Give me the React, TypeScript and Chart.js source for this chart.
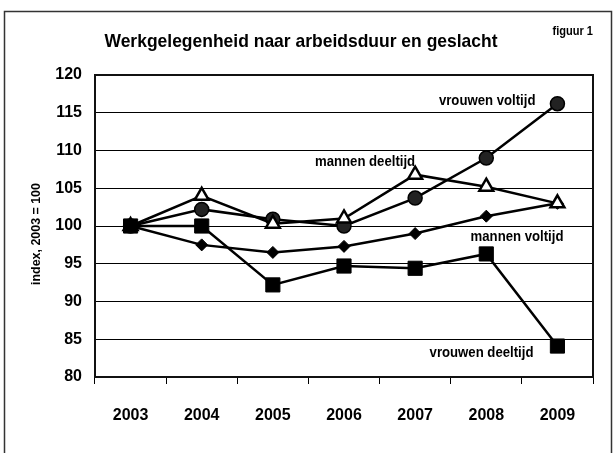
import { useEffect, useRef } from "react";
import { Chart, registerables } from "chart.js";

Chart.register(...registerables);

const years = ["2003", "2004", "2005", "2006", "2007", "2008", "2009"];
const vrouwenVoltijd = [100, 102.2, 100.9, 100.0, 103.7, 109.0, 116.2];
const mannenDeeltijd = [100, 104.0, 100.3, 101.0, 106.8, 105.2, 103.0];
const mannenVoltijd = [100, 97.5, 96.5, 97.3, 99.0, 101.3, 103.0];
const vrouwenDeeltijd = [100, 100.0, 92.2, 94.7, 94.4, 96.3, 84.1];
const yMin = 80;
const yMax = 120;
const yStep = 5;

const titleText = "Werkgelegenheid naar arbeidsduur en geslacht";
const figText = "figuur 1";
const yTitle = "index, 2003 = 100";

// series labels: text, category index anchor, value anchor, pixel nudge
const seriesLabels = [
  { text: "vrouwen voltijd", index: 6, value: 116.5, dx: -22 },
  { text: "mannen deeltijd", index: 4, value: 108.5, dx: 0 },
  { text: "mannen voltijd", index: 6, value: 98.5, dx: 6 },
  { text: "vrouwen deeltijd", index: 6, value: 83.2, dx: -24 },
];

const FAMILY = "'Liberation Sans', Arial, sans-serif";

function narrowText(ctx: any, text: string, x: number, y: number, size: number, sx: number, align: string) {
  ctx.save();
  ctx.font = `bold ${size}px ${FAMILY}`;
  ctx.textAlign = align;
  ctx.textBaseline = "middle";
  ctx.translate(x, y);
  ctx.scale(sx, 1);
  ctx.fillText(text, 0, 0);
  ctx.restore();
}

const decorPlugin = {
  id: "decor",
  beforeDraw(chart: any) {
    const ctx = chart.ctx;
    ctx.save();
    ctx.fillStyle = "#fff";
    ctx.fillRect(0, 0, chart.width, chart.height);
    ctx.restore();
  },
  beforeDatasetsDraw(chart: any) {
    const ctx = chart.ctx;
    const a = chart.chartArea;
    ctx.save();
    ctx.strokeStyle = "#111";
    ctx.lineWidth = 2;
    ctx.strokeRect(a.left, a.top, a.right - a.left, a.bottom - a.top);
    ctx.restore();
  },
  afterDraw(chart: any) {
    const ctx = chart.ctx;
    const xs = chart.scales.x;
    const ys = chart.scales.y;
    ctx.save();
    // outer frame
    ctx.strokeStyle = "#333";
    ctx.lineWidth = 1.5;
    ctx.beginPath();
    ctx.moveTo(4.5, chart.height + 5);
    ctx.lineTo(4.5, 11.5);
    ctx.lineTo(611.5, 11.5);
    ctx.lineTo(611.5, chart.height + 5);
    ctx.stroke();

    ctx.fillStyle = "#000";
    narrowText(ctx, titleText, 301, 42, 19, 0.92, "center");
    narrowText(ctx, figText, 593, 32, 12, 0.92, "right");
    // y title
    ctx.save();
    ctx.translate(36, 234);
    ctx.rotate(-Math.PI / 2);
    narrowText(ctx, yTitle, 0, 0, 13.5, 0.92, "center");
    ctx.restore();
    // series labels
    for (const l of seriesLabels) {
      const x = xs.getPixelForValue(l.index) + l.dx;
      const y = ys.getPixelForValue(l.value);
      narrowText(ctx, l.text, x, y, 14, 0.94, "right");
    }
    ctx.restore();
  },
};

export default function App() {
  const ref = useRef<HTMLCanvasElement | null>(null);

  useEffect(() => {
    const canvas = ref.current;
    if (!canvas) return;
    const font = { family: FAMILY, size: 16, weight: "bold" as const };
    const chart = new Chart(canvas, {
      type: "line",
      data: {
        labels: years,
        datasets: [
          {
            label: "vrouwen deeltijd",
            data: vrouwenDeeltijd,
            borderColor: "#000",
            borderWidth: 2.5,
            backgroundColor: "#000",
            pointStyle: "rect",
            pointRadius: 10,
            pointBorderWidth: 1,
            pointBackgroundColor: "#000",
            pointBorderColor: "#000",
            tension: 0,
            clip: false,
          },
          {
            label: "mannen deeltijd",
            data: mannenDeeltijd,
            borderColor: "#000",
            borderWidth: 2.5,
            backgroundColor: "#fff",
            pointStyle: "triangle",
            pointRadius: 8,
            pointBorderWidth: 2.5,
            pointBackgroundColor: "#fff",
            pointBorderColor: "#000",
            tension: 0,
            clip: false,
          },
          {
            label: "vrouwen voltijd",
            data: vrouwenVoltijd,
            borderColor: "#000",
            borderWidth: 2.5,
            backgroundColor: "#222",
            pointStyle: "circle",
            pointRadius: 7,
            pointBorderWidth: 1.5,
            pointBackgroundColor: "#222",
            pointBorderColor: "#000",
            tension: 0,
            clip: false,
          },
          {
            label: "mannen voltijd",
            data: mannenVoltijd,
            borderColor: "#000",
            borderWidth: 2.5,
            backgroundColor: "#000",
            pointStyle: "rectRot",
            pointRadius: 6,
            pointBorderWidth: 1,
            pointBackgroundColor: "#000",
            pointBorderColor: "#000",
            tension: 0,
            clip: false,
          },
        ],
      },
      options: {
        animation: false,
        responsive: false,
        maintainAspectRatio: false,
        layout: { padding: { left: 0, right: 23, top: 75, bottom: 0 } },
        plugins: {
          legend: { display: false },
          title: { display: false },
          tooltip: { enabled: false },
        },
        scales: {
          x: {
            type: "category",
            offset: true,
            grid: {
              display: true,
              drawOnChartArea: false,
              drawTicks: true,
              tickLength: 7,
              offset: true,
              color: "#000",
              lineWidth: 1,
            },
            border: { display: false },
            ticks: {
              color: "#000",
              font,
              padding: 22,
              maxRotation: 0,
              autoSkip: false,
            },
            afterFit: (s: any) => {
              s.height = 76;
            },
          },
          y: {
            min: yMin,
            max: yMax,
            ticks: {
              stepSize: yStep,
              color: "#000",
              font,
              padding: 13,
              autoSkip: false,
            },
            grid: { color: "#000", lineWidth: 1, drawTicks: false },
            border: { display: false },
            afterFit: (s: any) => {
              s.width = 95;
            },
          },
        },
      },
      plugins: [decorPlugin],
    });
    return () => chart.destroy();
  }, []);

  return (
    <div
      style={{
        position: "fixed",
        left: 0,
        top: 0,
        width: 616,
        height: 453,
        background: "#fff",
      }}
    >
      <canvas
        ref={ref}
        width={616}
        height={453}
        style={{ width: 616, height: 453, display: "block" }}
      />
    </div>
  );
}
